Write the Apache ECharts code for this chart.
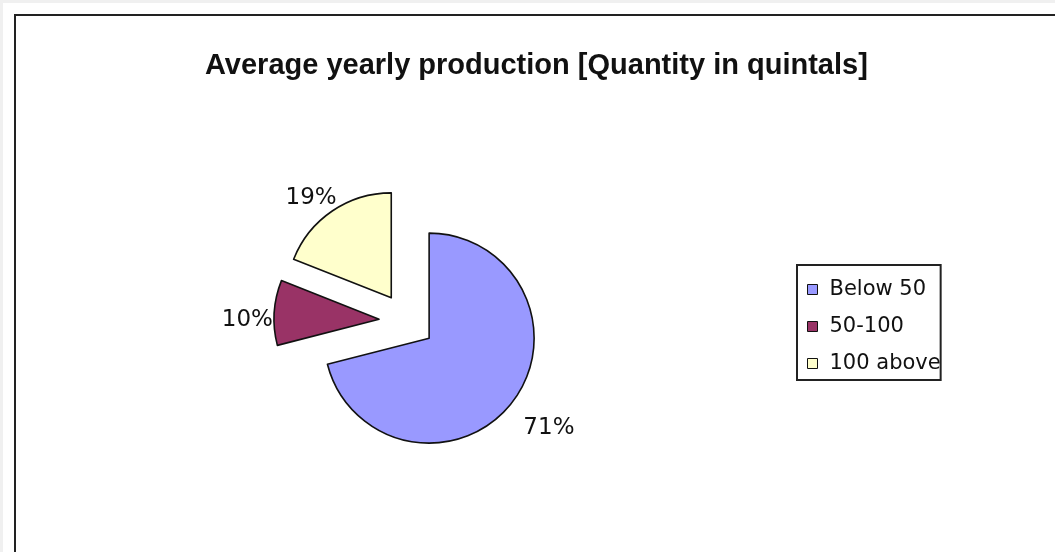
<!DOCTYPE html>
<html>
<head>
<meta charset="utf-8">
<script src="https://cdn.jsdelivr.net/npm/echarts@6/dist/echarts.min.js"></script>
<style>
html,body{margin:0;padding:0;background:#fff;}
#chart{width:1055px;height:552px;}
</style>
</head>
<body>
<div id="chart"></div>
<script>
const titleText = 'Average yearly production [Quantity in quintals]';
const categories = ['Below 50', '50-100', '100 above'];
const values = [71, 10, 19];
const colors = ['#9999FF', '#993366', '#FFFFCC'];

const chart = echarts.init(document.getElementById('chart'), null, {renderer: 'canvas'});

const pieData = categories.map((name, i) => ({
  name: name,
  value: values[i],
  selected: true,
  itemStyle: {color: colors[i]}
}));

const labelPads = [[0, 0, 0, 31], [0, 0, 0, 0], [0, 12, 0, 0]];
const labelData = categories.map((name, i) => ({
  name: name,
  value: values[i],
  selected: true,
  label: {padding: labelPads[i]}
}));

chart.setOption({
  backgroundColor: '#ffffff',
  animation: false,
  title: {
    text: titleText,
    left: 205,
    top: 51,
    padding: 0,
    textStyle: {fontFamily: 'Liberation Sans, Arial, sans-serif', fontSize: 29, fontWeight: 'bold', color: '#111'}
  },
  legend: {
    orient: 'vertical',
    left: 797,
    top: 265,
    data: categories,
    icon: 'rect',
    itemWidth: 10,
    itemHeight: 10,
    itemGap: 16,
    padding: [14, 0, 6, 10],
    borderColor: '#222',
    borderWidth: 2,
    selectedMode: false,
    itemStyle: {borderColor: '#111', borderWidth: 1},
    textStyle: {fontFamily: 'DejaVu Sans, sans-serif', fontSize: 21, lineHeight: 21, color: '#111', padding: [0, 0, 0, 7]}
  },
  graphic: [
    {type: 'rect', shape: {x: 0, y: 0, width: 1055, height: 3}, style: {fill: '#f0f0f0'}, silent: true},
    {type: 'rect', shape: {x: 0, y: 0, width: 3, height: 552}, style: {fill: '#f0f0f0'}, silent: true},
    {type: 'rect', shape: {x: 15, y: 15, width: 1200, height: 800}, style: {fill: 'none', stroke: '#222', lineWidth: 2}, silent: true}
  ],
  series: [
    {
      type: 'pie',
      center: [407, 321],
      radius: 105,
      startAngle: 90,
      clockwise: true,
      selectedMode: 'multiple',
      selectedOffset: 28,
      silent: true,
      emphasis: {disabled: true},
      label: {show: false},
      labelLine: {show: false},
      itemStyle: {borderColor: '#111', borderWidth: 1.6},
      select: {itemStyle: {borderColor: '#111', borderWidth: 1.6}},
      data: pieData
    },
    {
      type: 'pie',
      center: [407, 330],
      radius: [0, 258],
      startAngle: 90,
      clockwise: true,
      selectedMode: 'multiple',
      selectedOffset: 28,
      silent: true,
      avoidLabelOverlap: false,
      emphasis: {disabled: true},
      itemStyle: {color: 'rgba(0,0,0,0)', borderWidth: 0},
      select: {itemStyle: {color: 'rgba(0,0,0,0)', borderWidth: 0}},
      label: {
        show: true,
        position: 'inside',
        formatter: '{d}%',
        fontFamily: 'DejaVu Sans, sans-serif',
        fontSize: 23,
        color: '#111'
      },
      labelLine: {show: false},
      data: labelData
    }
  ]
});
</script>
</body>
</html>
